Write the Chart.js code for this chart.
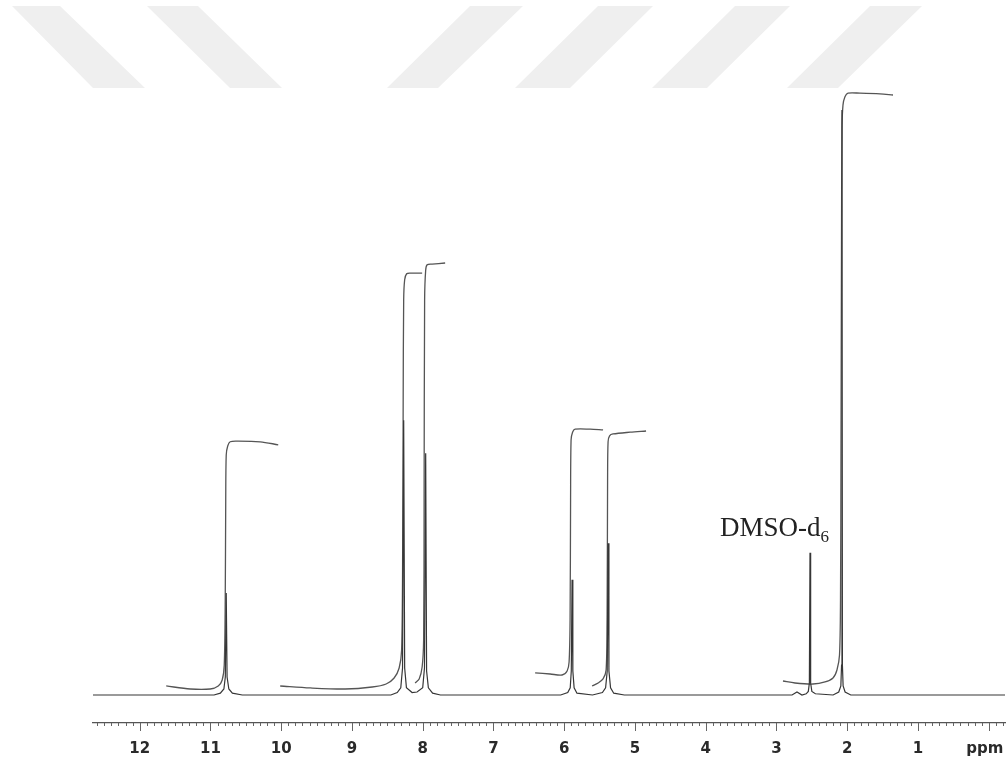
<!DOCTYPE html>
<html>
<head>
<meta charset="utf-8">
<script src="https://cdn.jsdelivr.net/npm/chart.js@4.4.1/dist/chart.umd.min.js"></script>
<style>
    html, body { margin: 0; padding: 0; background: #fff; }
    #wrap { width: 1008px; height: 765px; position: relative; }
</style>
</head>
<body>
<div id="wrap"><canvas id="nmrChart"></canvas></div>
<script>
// 1H NMR spectrum (DMSO-d6), chemical shift in ppm, relative intensity
const specPpm = [12.66,
    10.95, 10.86, 10.81, 10.79, 10.777, 10.765, 10.74, 10.69, 10.55,
    8.45, 8.36, 8.31, 8.285, 8.269, 8.255, 8.23, 8.15, 8.08, 8.0, 7.975, 7.958, 7.945, 7.92, 7.86, 7.75,
    6.05, 5.95, 5.915, 5.9, 5.889, 5.878, 5.86, 5.82, 5.6, 5.46, 5.415, 5.392, 5.38, 5.368, 5.345, 5.30, 5.15,
    2.78, 2.71, 2.64, 2.58, 2.55, 2.535, 2.526, 2.517, 2.50, 2.45,
    2.2, 2.12, 2.09, 2.08, 2.074, 2.068, 2.058, 2.03, 1.95, -0.23];
const specInt = [0,
    0, 0.3, 1.0, 3.0, 17, 3.0, 1.0, 0.3, 0,
    0, 0.4, 1.2, 4.5, 45.8, 4.5, 1.2, 0.4, 0.5, 1.2, 4.5, 40.3, 4.0, 1.2, 0.3, 0,
    0, 0.4, 1.2, 4.0, 19.2, 4.0, 1.2, 0.3, 0, 0.4, 1.2, 4.0, 25.3, 4.0, 1.2, 0.3, 0,
    0, 0.5, 0, 0.2, 0.6, 2.0, 23.7, 2.0, 0.6, 0.2,
    0, 0.5, 1.5, 5.0, 97.5, 5.0, 1.5, 0.5, 0, 0];

// integral curves [ppm, value]
const integral1077 = [[11.625, 1.5], [11.286, 1.0], [11.003, 1.0], [10.890, 1.5], [10.834, 2.5], [10.805, 5.0],
    [10.791, 15.8], [10.784, 32.5], [10.777, 40.0], [10.756, 41.5], [10.721, 42.2], [10.607, 42.3], [10.297, 42.2], [10.042, 41.7]];
const integral827 = [[10.014, 1.5], [9.590, 1.17], [9.096, 1.0], [8.714, 1.33], [8.517, 1.83], [8.404, 2.83], [8.333, 4.5],
    [8.298, 7.5], [8.283, 24.2], [8.276, 49.2], [8.269, 65.8], [8.255, 69.2], [8.227, 70.2], [8.177, 70.3], [8.008, 70.3]];
const integral796 = [[8.107, 2.0], [8.050, 2.67], [8.008, 4.67], [7.987, 9.17], [7.980, 32.5], [7.973, 65.8],
    [7.958, 70.8], [7.937, 71.7], [7.867, 71.8], [7.683, 72.0]];
const integral589 = [[6.411, 3.67], [6.199, 3.5], [6.030, 3.33], [5.959, 4.0], [5.931, 5.5], [5.917, 12.5],
    [5.910, 32.5], [5.903, 42.5], [5.882, 43.8], [5.846, 44.3], [5.634, 44.3], [5.451, 44.2]];
const integral538 = [[5.606, 1.5], [5.521, 2.0], [5.451, 2.67], [5.408, 4.17], [5.394, 12.5], [5.387, 35.8],
    [5.380, 42.2], [5.359, 43.2], [5.309, 43.5], [5.069, 43.8], [4.843, 44.0]];
const integral207 = [[2.908, 2.33], [2.738, 2.0], [2.484, 1.83], [2.314, 2.17], [2.201, 2.83], [2.145, 4.17],
    [2.109, 6.67], [2.095, 15.8], [2.088, 40.8], [2.081, 74.2], [2.074, 94.2], [2.060, 98.3], [2.032, 99.7],
    [1.989, 100.3], [1.820, 100.3], [1.537, 100.2], [1.353, 100.0]];

const majorTicks = [12, 11, 10, 9, 8, 7, 6, 5, 4, 3, 2, 1, 0];
const unitLabel = 'ppm';
const solventLabel = 'DMSO-d';
const solventSub = '6';
const solventPpm = 2.526;
const solventHeight = 23.7;

const xMin = -0.23, xMax = 12.66;

const integrals = [integral1077, integral827, integral796, integral589, integral538, integral207];

const datasets = [{
    label: 'spectrum',
    data: specPpm.map((p, i) => ({ x: p, y: specInt[i] })),
    borderColor: '#363636',
    borderWidth: 1.2,
    pointRadius: 0,
    tension: 0
}];
integrals.forEach((arr, k) => {
    datasets.push({
        label: 'integral ' + k,
        data: arr.map(d => ({ x: d[0], y: d[1] })),
        borderColor: '#555',
        borderWidth: 1.3,
        pointRadius: 0,
        tension: 0.3
    });
});

// grey watermark stripes at the top
const stripes = [
    [[12, 6], [60, 6], [145, 88], [93, 88]],
    [[147, 6], [198, 6], [282, 88], [230, 88]],
    [[470, 6], [523, 6], [438, 88], [387, 88]],
    [[598, 6], [653, 6], [570, 88], [515, 88]],
    [[735, 6], [790, 6], [707, 88], [652, 88]],
    [[870, 6], [922, 6], [838, 88], [787, 88]]
];
const watermarkPlugin = {
    id: 'watermark',
    beforeDraw(chart) {
        const ctx = chart.ctx;
        ctx.save();
        ctx.fillStyle = '#efefef';
        stripes.forEach(s => {
            ctx.beginPath();
            ctx.moveTo(s[0][0], s[0][1]);
            for (let i = 1; i < s.length; i++) ctx.lineTo(s[i][0], s[i][1]);
            ctx.closePath();
            ctx.fill();
        });
        ctx.restore();
    }
};

// tick marks (long at whole ppm, short every 0.1), unit label, solvent label
const extrasPlugin = {
    id: 'extras',
    afterDraw(chart) {
        const ctx = chart.ctx;
        const xs = chart.scales.x, ys = chart.scales.y;
        const bottom = chart.chartArea.bottom;
        ctx.save();
        ctx.strokeStyle = '#666';
        ctx.lineWidth = 1;
        xs.ticks.forEach(t => {
            const r = Math.round(t.value * 10) / 10;
            const major = Math.abs(r - Math.round(r)) < 1e-6;
            const px = Math.round(xs.getPixelForValue(t.value)) + 0.5;
            ctx.beginPath();
            ctx.moveTo(px, bottom);
            ctx.lineTo(px, bottom + (major ? 8 : 3));
            ctx.stroke();
        });

        // "ppm" sits under the 0 tick, pulled in so it stays on the canvas
        ctx.fillStyle = '#2a2a2a';
        ctx.font = 'bold 15px "DejaVu Sans", sans-serif';
        ctx.textAlign = 'center';
        ctx.textBaseline = 'top';
        ctx.fillText(unitLabel, xs.getPixelForValue(0) - 4, bottom + 19);

        const tx = xs.getPixelForValue(solventPpm) + 19;
        const ty = ys.getPixelForValue(solventHeight) - 17;
        ctx.fillStyle = '#222';
        ctx.font = '17px "Liberation Serif", "Times New Roman", serif';
        const subW = ctx.measureText(solventSub).width;
        ctx.textAlign = 'right';
        ctx.textBaseline = 'alphabetic';
        ctx.fillText(solventSub, tx, ty + 6);
        ctx.font = '27px "Liberation Serif", "Times New Roman", serif';
        ctx.fillText(solventLabel, tx - subW, ty);
        ctx.restore();
    }
};

const ctx = document.getElementById('nmrChart').getContext('2d');
new Chart(ctx, {
    type: 'line',
    data: { datasets: datasets },
    options: {
        responsive: true,
        maintainAspectRatio: false,
        animation: false,
        layout: { padding: { left: 93, right: 3, top: 0, bottom: 7 } },
        plugins: {
            legend: { display: false },
            tooltip: { enabled: false }
        },
        scales: {
            x: {
                type: 'linear',
                reverse: true,
                min: xMin,
                max: xMax,
                border: { display: true, color: '#555', width: 1.3 },
                grid: { drawOnChartArea: false, tickLength: 17, tickColor: 'rgba(0,0,0,0)' },
                ticks: {
                    stepSize: 0.1,
                    includeBounds: false,
                    autoSkip: false,
                    maxTicksLimit: 200,
                    maxRotation: 0,
                    minRotation: 0,
                    padding: 0,
                    color: '#2a2a2a',
                    font: { family: '"DejaVu Sans", sans-serif', size: 15, weight: 'bold' },
                    callback: function(value) {
                        const r = Math.round(value * 10) / 10;
                        if (Math.abs(r - Math.round(r)) > 1e-6) return '';
                        const n = Math.round(r);
                        // 0 gets the unit label, drawn by the plugin
                        return (n !== 0 && majorTicks.includes(n)) ? String(n) : '';
                    }
                }
            },
            y: {
                display: false,
                min: -4.67,
                max: 115.83
            }
        }
    },
    plugins: [watermarkPlugin, extrasPlugin]
});
</script>
</body>
</html>
